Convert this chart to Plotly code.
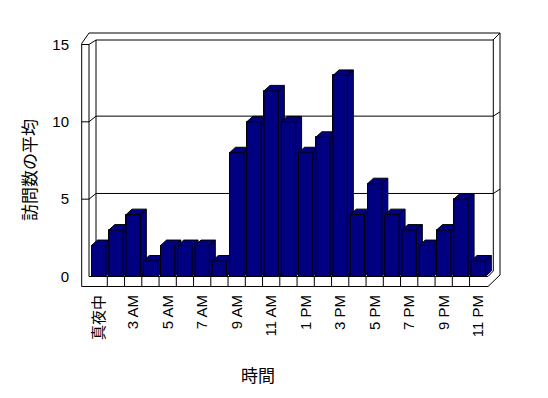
import plotly.graph_objects as go

# ---------------- data ----------------
categories = ["真夜中", "1 AM", "3 AM", "4 AM", "5 AM", "6 AM", "7 AM", "8 AM",
              "9 AM", "10 AM", "11 AM", "12 PM", "1 PM", "2 PM", "3 PM", "4 PM",
              "5 PM", "6 PM", "7 PM", "8 PM", "9 PM", "10 PM", "11 PM"]
values = [2, 3, 4, 1, 2, 2, 2, 1, 8, 10, 12, 10, 8, 9, 13, 4, 6, 4, 3, 2, 3, 5, 1]
y_tick_values = [0, 5, 10, 15]
grid_values = [5, 10]
x_title = "時間"
y_title = "訪問数の平均"

# ---------------- geometry helpers (pixel -> data) ----------------
W, H = 548, 398
L, R, T, B = 80, 502, 31, 289          # plot area in pixels
X0PX, CW = 90.05, 17.25                # left edge of first category, category width
Y0PX, UH = 276.5, 15.467               # pixel of value 0, pixels per unit


def xd(px):
    return (px - X0PX) / CW - 0.5


def yd(py):
    return (Y0PX - py) / UH


def xp(px):
    return (px - L) / (R - L)


def yp(py):
    return (B - py) / (B - T)


NAVY = "#000080"
FONT = "Liberation Sans, Arial, 'Noto Sans CJK JP', sans-serif"

bw = 14.3 / CW          # bar width in category units
dx = 6.0 / CW           # depth offset
dy = 5.5 / UH

xs = list(range(len(categories)))

fig = go.Figure()

# front faces of the bars
fig.add_trace(go.Bar(x=xs, y=values, width=bw, marker=dict(color=NAVY, line=dict(color="black", width=1)),
                     hoverinfo="skip", showlegend=False))

# 3D bodies (front + top + side), drawn in order so later bars hide earlier sides
for i, v in zip(xs, values):
    xl, xr = i - bw / 2, i + bw / 2
    px = [xl, xl, xl + dx, xr + dx, xr + dx, xr, xl, None, xl, xr, xr, None, xr, xr + dx]
    py = [0, v, v + dy, v + dy, dy, 0, 0, None, v, v, 0, None, v, v + dy]
    fig.add_trace(go.Scatter(x=px, y=py, mode="lines", fill="toself", fillcolor=NAVY,
                             line=dict(color="black", width=1), hoverinfo="skip",
                             showlegend=False))

shapes = []


def path(points):
    return "M " + " L ".join(f"{xd(a):.4f},{yd(b):.4f}" for a, b in points)


line_style = dict(color="black", width=1)

# frame of the 3D box
frame_paths = [
    [(81.7, 43.5), (81.7, 286.5), (488, 286.5), (500, 275), (500, 33), (89, 33), (81.7, 43.5)],
    [(81.7, 44.5), (89, 44.5), (96, 40), (493, 40), (500, 33)],
    [(89, 44.5), (89, 276.5), (488, 276.5), (493.3, 271)],
    [(96, 40), (96, 271)],
    [(493.3, 40), (493.3, 271)],
]
for p in frame_paths:
    shapes.append(dict(type="path", path=path(p), xref="x", yref="y", line=line_style, layer="below"))

# gridlines (front tick on the left wall, diagonal to back wall, across the back wall)
for g in grid_values:
    yf = Y0PX - g * UH
    pts = [(81.7, yf), (89, yf), (96, yf - 5.7), (493.3, yf - 5.7), (500, yf - 10)]
    shapes.append(dict(type="path", path=path(pts), xref="x", yref="y", line=line_style, layer="below"))

# category separators on the floor front
for i in xs[:-1]:
    shapes.append(dict(type="line", xref="x", yref="y", x0=i + 0.5, x1=i + 0.5,
                       y0=yd(286.5), y1=yd(276.5), line=line_style, layer="below"))

fig.update_layout(
    width=W, height=H,
    margin=dict(l=L, r=W - R, t=T, b=H - B, pad=0),
    paper_bgcolor="white", plot_bgcolor="white",
    font=dict(family=FONT, size=14, color="black"),
    shapes=shapes,
    bargap=0,
    xaxis=dict(range=[xd(L), xd(R)], tickmode="array", tickvals=xs[::2], ticktext=categories[::2],
               tickangle=-90, showgrid=False, zeroline=False, showline=False, ticks="",
               ticklabelstandoff=2, tickfont=dict(size=15), fixedrange=True),
    yaxis=dict(range=[yd(B), yd(T)], tickmode="array", tickvals=y_tick_values,
               showgrid=False, zeroline=False, showline=False, ticks="",
               ticklabelstandoff=10, tickfont=dict(size=15), fixedrange=True),
    annotations=[
        dict(text=x_title, x=xp(258), y=yp(376), xref="paper", yref="paper",
             showarrow=False, font=dict(size=17), xanchor="center", yanchor="middle"),
        dict(text=y_title, x=xp(30), y=yp(170), xref="paper", yref="paper",
             showarrow=False, font=dict(size=17), textangle=-90, xanchor="center", yanchor="middle"),
    ],
)

fig.write_html("out.html")
